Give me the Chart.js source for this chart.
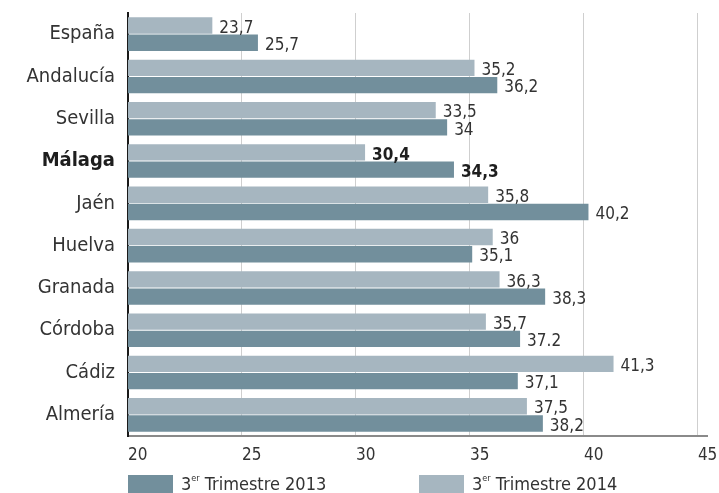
<!DOCTYPE html>
<html>
<head>
<meta charset="utf-8">
<script src="https://cdn.jsdelivr.net/npm/chart.js@4"></script>
<style>
    body { margin: 0; background: #fff; }
    #wrap { position: relative; width: 719px; height: 493px; }
    .legend-item { position: absolute; top: 473px; display: flex; align-items: center; font-family: 'Liberation Sans Narrow', 'DejaVu Sans Condensed', sans-serif; font-size: 18px; color: #333; }
    .legend-box { width: 45px; height: 18px; margin-right: 8px; }
    .legend-item sup { font-size: 9px; position: relative; top: -2px; }
</style>
</head>
<body>
<div id="wrap">
    <canvas id="chart" width="719" height="493"></canvas>
    <div class="legend-item" style="left:128px"><div class="legend-box" style="background:#728f9c"></div><span>3<sup>er</sup> Trimestre 2013</span></div>
    <div class="legend-item" style="left:419px"><div class="legend-box" style="background:#a6b6c0"></div><span>3<sup>er</sup> Trimestre 2014</span></div>
</div>
<script>
const FONT = "'Liberation Sans Narrow', 'DejaVu Sans Condensed', sans-serif";

const regiones = ['España', 'Andalucía', 'Sevilla', 'Málaga', 'Jaén', 'Huelva', 'Granada', 'Córdoba', 'Cádiz', 'Almería'];
const valores2014 = [23.7, 35.2, 33.5, 30.4, 35.8, 36, 36.3, 35.7, 41.3, 37.5];
const valores2013 = [25.7, 36.2, 34, 34.3, 40.2, 35.1, 38.3, 37.2, 37.1, 38.2];
const etiquetas2014 = ['23,7', '35,2', '33,5', '30,4', '35,8', '36', '36,3', '35,7', '41,3', '37,5'];
const etiquetas2013 = ['25,7', '36,2', '34', '34,3', '40,2', '35,1', '38,3', '37.2', '37,1', '38,2'];
const ticksX = [20, 25, 30, 35, 40, 45];
const destacada = 'Málaga';

const etiquetasValor = {
    id: 'etiquetasValor',
    afterDatasetsDraw(chart) {
        const ctx = chart.ctx;
        const textos = [etiquetas2014, etiquetas2013];
        ctx.save();
        ctx.textAlign = 'left';
        ctx.textBaseline = 'alphabetic';
        chart.data.datasets.forEach((ds, d) => {
            chart.getDatasetMeta(d).data.forEach((bar, i) => {
                const bold = regiones[i] === destacada;
                ctx.font = (bold ? 'bold ' : '') + '17px ' + FONT;
                ctx.fillStyle = bold ? '#1e1e1e' : '#333';
                ctx.fillText(textos[d][i], bar.x + 7, bar.y + bar.height / 2 - 1);
            });
        });
        ctx.restore();
    }
};

new Chart(document.getElementById('chart'), {
    type: 'bar',
    data: {
        labels: regiones,
        datasets: [
            { label: '3er Trimestre 2014', data: valores2014, backgroundColor: '#a6b6c0' },
            { label: '3er Trimestre 2013', data: valores2013, backgroundColor: '#728f9c' }
        ]
    },
    options: {
        indexAxis: 'y',
        responsive: false,
        animation: false,
        categoryPercentage: 0.815,
        barPercentage: 0.95,
        layout: { padding: { top: 13, right: 12, bottom: 27, left: 0 } },
        plugins: {
            legend: { display: false },
            tooltip: { enabled: false }
        },
        scales: {
            x: {
                min: 20,
                max: 45.4,
                afterBuildTicks: scale => {
                    scale.ticks = ticksX.map(v => ({ value: v }));
                },
                afterFit: scale => {
                    scale.height = 30;
                    scale.paddingLeft = 0;
                    scale.paddingRight = 0;
                },
                grid: { color: '#cfcfcf', lineWidth: 1, drawTicks: false },
                border: { display: true, color: '#8a8a8a', width: 2 },
                ticks: {
                    align: 'start',
                    padding: 9,
                    color: '#333',
                    font: { family: FONT, size: 17 }
                }
            },
            y: {
                afterFit: scale => {
                    scale.width = 128;
                    scale.paddingTop = 0;
                    scale.paddingBottom = 0;
                },
                grid: { display: false, drawTicks: false },
                border: { display: true, color: '#1a1a1a', width: 2 },
                ticks: {
                    padding: 13,
                    color: ctx => regiones[ctx.index] === destacada ? '#1e1e1e' : '#333',
                    font: ctx => ({
                        family: FONT,
                        size: 20,
                        weight: regiones[ctx.index] === destacada ? 'bold' : 'normal'
                    })
                }
            }
        }
    },
    plugins: [etiquetasValor]
});
</script>
</body>
</html>
